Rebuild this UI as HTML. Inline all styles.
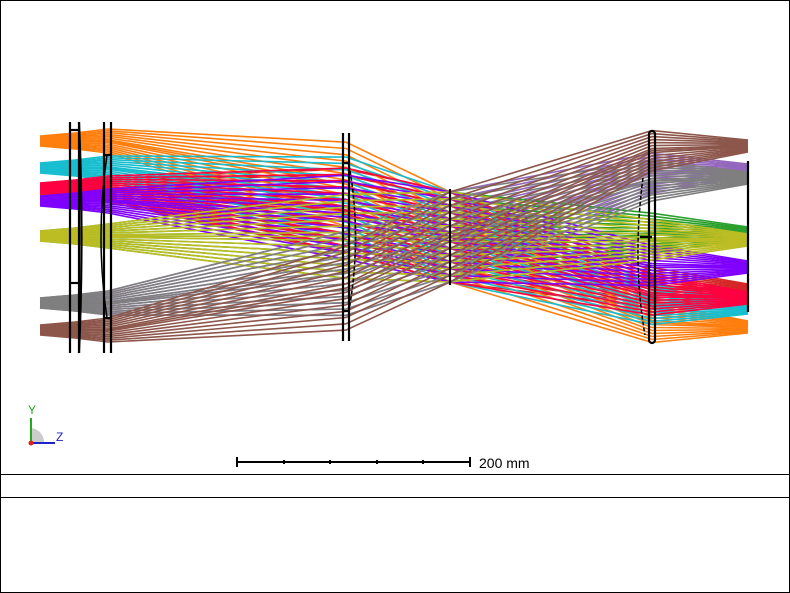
<!DOCTYPE html>
<html><head><meta charset="utf-8"><style>
body{margin:0;background:#fff}
svg{display:block;font-family:"Liberation Sans",sans-serif}
</style></head><body>
<svg id="chart" width="790" height="593" viewBox="0 0 790 593">
<rect x="0.5" y="0.5" width="789" height="592" fill="#fff" stroke="#000"/>
<g id="rays"></g>
<g id="lenses" stroke="#000" fill="none" stroke-width="2.2">
<line x1="70" y1="122" x2="70" y2="353"/><line x1="79" y1="122" x2="79" y2="353"/>
<line x1="70" y1="130" x2="80" y2="130"/><line x1="70" y1="283" x2="80" y2="283"/>
<path d="M79 122 Q84 237 79 353"/>
<line x1="104" y1="122" x2="104" y2="353"/><line x1="111" y1="122" x2="111" y2="353"/>
<path d="M107 155 Q95 237 107 318" stroke-width="1.5"/>
<line x1="104" y1="155" x2="111" y2="155"/><line x1="104" y1="318" x2="111" y2="318"/>
<line x1="343" y1="133" x2="343" y2="341"/><line x1="349" y1="133" x2="349" y2="341"/>
<path d="M349 165 Q362 237 349 310" stroke-dasharray="4 2" stroke-width="1.6"/>
<line x1="343" y1="163" x2="349" y2="163"/><line x1="343" y1="311" x2="349" y2="311"/>
<line x1="450" y1="189" x2="450" y2="285"/>
<rect x="649" y="131" width="6" height="212" rx="3"/>
<path d="M643 178 Q632 260 645 335" stroke-dasharray="4 2" stroke-width="1.5"/>
<line x1="640" y1="237" x2="652" y2="237"/>
<line x1="748" y1="161" x2="748" y2="312"/>
</g>
<g>
<path d="M30 443 L30 428 A14 14 0 0 1 44 442 Z" fill="#ccc"/>
<line x1="31" y1="443" x2="31" y2="418" stroke="#2a2" stroke-width="2"/>
<line x1="31" y1="443" x2="55" y2="443" stroke="#22c" stroke-width="2"/>
<circle cx="31" cy="443" r="2.5" fill="#d22"/>
<text x="28" y="414" font-size="12" fill="#2a2">Y</text>
<text x="56" y="441" font-size="12" fill="#22c">Z</text>
</g>
<g stroke="#000" stroke-width="2">
<line x1="237" y1="462" x2="470" y2="462"/>
<line x1="237" y1="457" x2="237" y2="467"/><line x1="470" y1="457" x2="470" y2="467"/>
<line x1="284" y1="460" x2="284" y2="464"/><line x1="330" y1="460" x2="330" y2="464"/>
<line x1="377" y1="460" x2="377" y2="464"/><line x1="423" y1="460" x2="423" y2="464"/>
</g>
<text x="479" y="468" font-size="14">200 mm</text>
<line x1="0" y1="474.5" x2="790" y2="474.5" stroke="#000"/>
<line x1="0" y1="497.5" x2="790" y2="497.5" stroke="#000"/>
</svg>
<script>
const fieldColors=["#9467bd","#d62728","#2ca02c","#ff7f0e","#17becf","#ff0040","#8000ff","#bcbd22","#7f7f7f","#8c564b"];
const inputY=[303,190,236,141,168,188,201,236,303,330];
const outputY=[170,290,233,327,308,298,267,240,178,146];
const pupil=[-1,-0.85,-0.7,-0.55,-0.4,-0.25,-0.1,0,0.1,0.25,0.4,0.55,0.7,0.85,1];
const g=document.getElementById('rays');
const ns="http://www.w3.org/2000/svg";
const stopX=450,stopY=237;
function pathFor(yi,yo,p){
  const pts=[[40,yi+p*5],[75,yi+p*8],[108,yi+p*12],
    [346,stopY+(yi-stopY)*0.55+p*42],[stopX,stopY+p*45],
    [652,stopY+(yo-stopY)*0.95+p*20],[748,yo+p*6]];
  return "M"+pts.map(q=>q[0]+" "+q[1].toFixed(1)).join(" L");
}
fieldColors.forEach((c,i)=>{
  pupil.forEach(p=>{
    const el=document.createElementNS(ns,'path');
    el.setAttribute('d',pathFor(inputY[i],outputY[i],p));
    el.setAttribute('stroke',c);el.setAttribute('fill','none');el.setAttribute('stroke-width','1.6');
    
    
    g.appendChild(el);
  });
});
</script>
</body></html>
